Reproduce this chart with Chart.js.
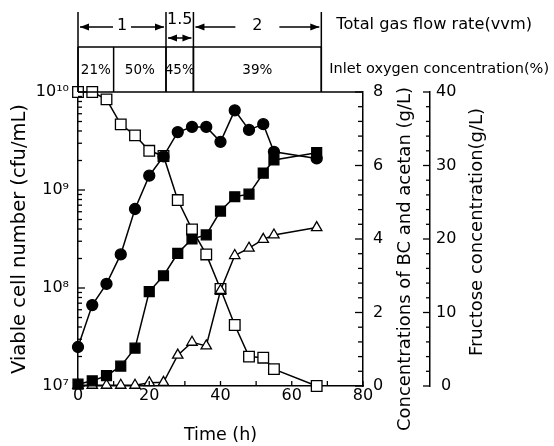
<!DOCTYPE html>
<html>
<head>
<meta charset="utf-8">
<script src="https://cdn.jsdelivr.net/npm/chart.js@4.4.1/dist/chart.umd.min.js"></script>
<style>
  html, body { margin: 0; padding: 0; background: #fff; }
</style>
</head>
<body>
<canvas id="myChart" width="554" height="446"></canvas>
<script>
// sampling times (h)
const times = [0, 4, 8, 12, 16, 20, 24, 28, 32, 36, 40, 44, 48, 52, 55, 67];
// viable cell number (cfu/mL) - filled circles
const viableCells = [2.5e7, 6.7e7, 1.1e8, 2.2e8, 6.4e8, 1.4e9, 2.2e9, 3.9e9, 4.4e9, 4.4e9, 3.1e9, 6.5e9, 4.1e9, 4.7e9, 2.45e9, 2.1e9];
// BC (g/L) - filled squares
const bcConc = [0.05, 0.14, 0.28, 0.54, 1.03, 2.57, 3.0, 3.61, 4.0, 4.11, 4.76, 5.15, 5.22, 5.79, 6.15, 6.35];
// acetan (g/L) - open triangles
const acetanConc = [0.02, 0.02, 0.02, 0.02, 0.02, 0.09, 0.1, 0.84, 1.19, 1.09, 2.6, 3.55, 3.75, 3.99, 4.11, 4.31];
// fructose (g/L) - open squares
const fructoseConc = [40, 40, 39, 35.6, 34.1, 32, 31.3, 25.3, 21.3, 17.9, 13.2, 8.3, 4.0, 3.85, 2.3, 0];

// tick labels
const cellTicks = [1e7, 1e8, 1e9, 1e10];
const cellTickLabels = ['10⁷', '10⁸', '10⁹', '10¹⁰'];

// operating conditions (boundaries in h)
const flowEdges = [0, 24.7, 32.4, 68.3];
const flowLabels = ['1', '1.5', '2'];
const oxygenEdges = [0, 10, 24.7, 32.4, 68.3];
const oxygenLabels = ['21%', '50%', '45%', '39%'];

Chart.defaults.font.family = "'DejaVu Sans', sans-serif";
Chart.defaults.color = '#000';

const pts = (arr) => times.map((t, i) => ({ x: t, y: arr[i] }));

function line(ctx, x1, y1, x2, y2) {
  ctx.beginPath();
  ctx.moveTo(x1, y1);
  ctx.lineTo(x2, y2);
  ctx.stroke();
}

function head(ctx, x, y, dir) {
  // dir = -1 points left, 1 points right
  ctx.beginPath();
  ctx.moveTo(x, y);
  ctx.lineTo(x - dir * 9, y - 3.5);
  ctx.lineTo(x - dir * 9, y + 3.5);
  ctx.closePath();
  ctx.fill();
}

function arrow(ctx, x1, x2, y, gap) {
  const mid = (x1 + x2) / 2;
  if (gap > 0) {
    line(ctx, x1, y, mid - gap, y);
    line(ctx, mid + gap, y, x2, y);
  } else {
    line(ctx, x1, y, x2, y);
  }
  head(ctx, x1, y, -1);
  head(ctx, x2, y, 1);
}

// header with gas flow rate and oxygen concentration
const headerPlugin = {
  id: 'header',
  afterDraw(chart) {
    const ctx = chart.ctx;
    const xs = chart.scales.x;
    const top = chart.chartArea.top;
    const px = (v) => xs.getPixelForValue(v);
    ctx.save();
    ctx.strokeStyle = '#000';
    ctx.fillStyle = '#000';
    ctx.lineWidth = 1.5;

    flowEdges.forEach((v) => line(ctx, px(v), 12, px(v), top));
    oxygenEdges.forEach((v) => line(ctx, px(v), 47, px(v), top));
    line(ctx, px(oxygenEdges[0]), 47, px(oxygenEdges[oxygenEdges.length - 1]), 47);
    line(ctx, chart.chartArea.left, top, chart.chartArea.right, top);

    ctx.textBaseline = 'middle';
    ctx.textAlign = 'center';
    ctx.font = "16px 'DejaVu Sans'";
    const gaps = [9, 0, 22];
    for (let i = 0; i < flowLabels.length; i++) {
      const a = px(flowEdges[i]) + 2;
      const b = px(flowEdges[i + 1]) - 2;
      if (b - a < 40) {
        ctx.fillText(flowLabels[i], (a + b) / 2, 20);
        arrow(ctx, a, b, 38, 0);
      } else {
        ctx.fillText(flowLabels[i], (a + b) / 2, 26);
        arrow(ctx, a, b, 27, gaps[i]);
      }
    }

    ctx.font = "13.5px 'DejaVu Sans'";
    for (let i = 0; i < oxygenLabels.length; i++) {
      ctx.fillText(oxygenLabels[i], (px(oxygenEdges[i]) + px(oxygenEdges[i + 1])) / 2, 70);
    }

    const endX = px(oxygenEdges[oxygenEdges.length - 1]);
    ctx.textAlign = 'left';
    ctx.font = "16.2px 'DejaVu Sans'";
    ctx.fillText('Total gas flow rate(vvm)', endX + 15, 25);
    ctx.font = "14.5px 'DejaVu Sans'";
    ctx.fillText('Inlet oxygen concentration(%)', endX + 8, 69);

    // right axis titles, read bottom to top
    ctx.font = "18px 'DejaVu Sans'";
    ctx.textAlign = 'center';
    const rot = (text, x, y) => {
      ctx.save();
      ctx.translate(x, y);
      ctx.rotate(-Math.PI / 2);
      ctx.fillText(text, 0, 0);
      ctx.restore();
    };
    rot('Concentrations of BC and acetan (g/L)', chart.scales.yBC.left + 42, 259);
    rot('Fructose concentration(g/L)', chart.scales.yFru.left + 47, 232);
    ctx.restore();
  }
};

// inward tick marks
const tickPlugin = {
  id: 'inTicks',
  afterDraw(chart) {
    const ctx = chart.ctx;
    const { x, yCell, yBC, yFru } = chart.scales;
    const area = chart.chartArea;
    ctx.save();
    ctx.strokeStyle = '#000';
    ctx.lineWidth = 1.3;
    for (let v = 0; v <= 80; v += 10) {
      const p = x.getPixelForValue(v);
      line(ctx, p, area.bottom, p, area.bottom - 5);
    }
    for (let d = 7; d <= 10; d++) {
      const p = yCell.getPixelForValue(Math.pow(10, d));
      line(ctx, area.left, p, area.left + 7, p);
      if (d < 10) {
        for (let k = 2; k <= 9; k++) {
          const q = yCell.getPixelForValue(k * Math.pow(10, d));
          line(ctx, area.left, q, area.left + 4, q);
        }
      }
    }
    for (let i = 0; i <= 20; i++) {
      const v = i * 0.4;
      const p = yBC.getPixelForValue(v);
      line(ctx, area.right, p, area.right - (i % 5 === 0 ? 8 : 5), p);
    }
    const fx = yFru.left;
    for (let v = 0; v <= 40; v += 2) {
      const p = yFru.getPixelForValue(v);
      line(ctx, fx, p, fx - (v % 10 === 0 ? 7 : 4), p);
    }
    ctx.restore();
  }
};

const common = {
  borderColor: '#000',
  borderWidth: 1.5,
  pointBorderColor: '#000',
  pointBorderWidth: 1.3,
  tension: 0,
  clip: false
};

const config = {
  type: 'line',
  data: {
    datasets: [
      Object.assign({
        label: 'Viable cells',
        data: pts(viableCells),
        yAxisID: 'yCell',
        pointStyle: 'circle',
        pointRadius: 5.5,
        pointBackgroundColor: '#000',
        order: 1
      }, common),
      Object.assign({
        label: 'BC',
        data: pts(bcConc),
        yAxisID: 'yBC',
        pointStyle: 'rect',
        pointRadius: 7,
        pointBackgroundColor: '#000',
        order: 2
      }, common),
      Object.assign({
        label: 'Acetan',
        data: pts(acetanConc),
        yAxisID: 'yBC',
        pointStyle: 'triangle',
        pointRadius: 6,
        pointBackgroundColor: '#fff',
        order: 3
      }, common),
      Object.assign({
        label: 'Fructose',
        data: pts(fructoseConc),
        yAxisID: 'yFru',
        pointStyle: 'rect',
        pointRadius: 7.5,
        pointBackgroundColor: '#fff',
        order: 4
      }, common)
    ]
  },
  options: {
    responsive: false,
    devicePixelRatio: 1,
    animation: false,
    layout: { padding: { top: 92, left: 0, right: 0, bottom: 0 } },
    plugins: {
      legend: { display: false },
      tooltip: { enabled: false }
    },
    scales: {
      x: {
        type: 'linear',
        position: 'bottom',
        min: 0,
        max: 80,
        ticks: { stepSize: 20, padding: 0, font: { size: 16 }, color: '#000' },
        grid: { display: false, drawTicks: false },
        border: { color: '#000', width: 1.5 },
        title: { display: true, text: 'Time (h)', font: { size: 17.5 }, color: '#000', padding: { top: 0, bottom: 0 } },
        afterFit: (s) => { s.height = 60; }
      },
      yCell: {
        type: 'logarithmic',
        position: 'left',
        min: 1e7,
        max: 1e10,
        afterBuildTicks: (s) => { s.ticks = cellTicks.map((v) => ({ value: v })); },
        ticks: {
          padding: 9,
          font: { size: 16 },
          color: '#000',
          callback: (v, i) => cellTickLabels[i]
        },
        grid: { display: false, drawTicks: false },
        border: { color: '#000', width: 1.5 },
        title: { display: true, text: 'Viable cell number (cfu/mL)', font: { size: 19.5 }, color: '#000', padding: { top: 8, bottom: 0 } },
        afterFit: (s) => { s.width = 78; }
      },
      yBC: {
        type: 'linear',
        position: 'right',
        weight: 0,
        min: 0,
        max: 8,
        ticks: { stepSize: 2, padding: 10, font: { size: 16 }, color: '#000' },
        grid: { display: false, drawTicks: false },
        border: { color: '#000', width: 1.5 },
        afterFit: (s) => { s.width = 67; }
      },
      yFru: {
        type: 'linear',
        position: 'right',
        weight: 1,
        min: 0,
        max: 40,
        ticks: { stepSize: 10, padding: 6, crossAlign: 'center', font: { size: 16 }, color: '#000' },
        grid: { display: false, drawTicks: false },
        border: { color: '#000', width: 1.5 },
        afterFit: (s) => { s.width = 124; }
      }
    }
  },
  plugins: [headerPlugin, tickPlugin]
};

const chart = new Chart(document.getElementById('myChart').getContext('2d'), config);
</script>
</body>
</html>
